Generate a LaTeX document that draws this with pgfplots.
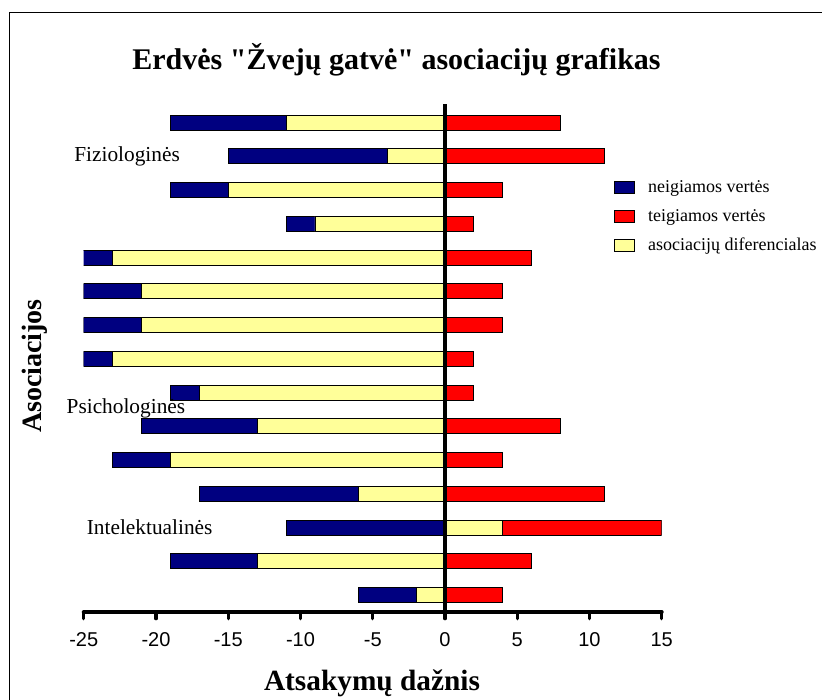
\documentclass[border=0pt]{standalone}
\usepackage{pgfplots}
\pgfplotsset{compat=1.18}
\usepackage{fontspec}
\setmainfont{Liberation Serif}[Ligatures=TeXOff]
\newfontfamily\arialfont{Liberation Sans}

\definecolor{negblue}{RGB}{0,0,128}
\definecolor{posred}{RGB}{255,0,0}
\definecolor{diffyellow}{RGB}{255,255,153}

% row: 15 = top row, 1 = bottom row
% neg = neigiamos vertes, pos = teigiamos vertes, diff = neg + pos
\pgfplotstableread{
row neg pos diff
15 -19  8 -11
14 -15 11  -4
13 -19  4 -15
12 -11  2  -9
11 -29  6 -23
10 -25  4 -21
9  -25  4 -21
8  -25  2 -23
7  -19  2 -17
6  -21  8 -13
5  -23  4 -19
4  -17 11  -6
3  -11 15   4
2  -19  6 -13
1   -6  4  -2
}\assoc

\begin{document}
\begin{tikzpicture}
\useasboundingbox (-62.8pt,-66pt) rectangle (553.7pt,459pt);
\draw[line width=0.75pt] (-56pt,-70pt) -- (-56pt,449.25pt) -- (560pt,449.25pt);
\begin{axis}[
  at={(0,0)}, anchor=south west,
  width=433.5pt, height=381pt, scale only axis,
  xbar, bar width=11.25pt,
  xmin=-25, xmax=15,
  ymin=0.5, ymax=15.55,
  axis x line*=bottom,
  axis y line=none,
  axis line style={-, line width=3pt, line cap=round},
  xtick={-25,-20,-15,-10,-5,0,5,10,15},
  xticklabels={-25,-20,-15,-10,-5,0,5,10,15},
  xtick align=outside,
  major tick length=5pt,
  x tick style={line width=2.5pt, black, line cap=round},
  x tick label style={font=\arialfont\fontsize{15}{15}\selectfont, yshift=-7pt},
  clip mode=individual,
  legend style={at={(0.91,0.86)}, anchor=north west, draw=none, fill=none,
    font=\fontsize{13.5}{13.5}\selectfont, row sep=7pt,
    /tikz/every odd column/.append style={column sep=8pt}},
  legend cell align=left,
  legend image code/.code={\draw[#1, draw=black, line width=0.6pt] (0pt,-4.5pt) rectangle (15pt,4.5pt);},
]
\addplot[bar shift=0pt, fill=negblue, draw=black, line width=0.6pt] table[x=neg, y=row] {\assoc};
\addplot[bar shift=0pt, fill=posred, draw=black, line width=0.6pt] table[x=pos, y=row] {\assoc};
\addplot[bar shift=0pt, fill=diffyellow, draw=black, line width=0.6pt] table[x=diff, y=row] {\assoc};
\legend{neigiamos vertės, teigiamos vertės, asociacijų diferencialas}
\draw[line width=3pt] (axis cs:0,0.5) -- (axis cs:0,15.55);
\node[anchor=west, inner sep=0pt, font=\fontsize{16}{16}\selectfont] at (axis cs:-25.67,14) {Fiziologinės};
\node[anchor=west, inner sep=0pt, font=\fontsize{16}{16}\selectfont] at (axis cs:-26.2,6.54) {Psichologinės};
\node[anchor=west, inner sep=0pt, font=\fontsize{16}{16}\selectfont] at (axis cs:-24.8,3) {Intelektualinės};
\end{axis}
\node[font=\fontsize{22.5}{22.5}\selectfont\bfseries] at (234.6pt,414pt) {Erdvės "Žvejų gatvė" asociacijų grafikas};
\node[font=\fontsize{22}{22}\selectfont\bfseries] at (216.2pt,-53.25pt) {Atsakymų dažnis};
\node[font=\fontsize{21}{21}\selectfont\bfseries, rotate=90] at (-36.5pt,184.5pt) {Asociacijos};
\end{tikzpicture}
\end{document}
